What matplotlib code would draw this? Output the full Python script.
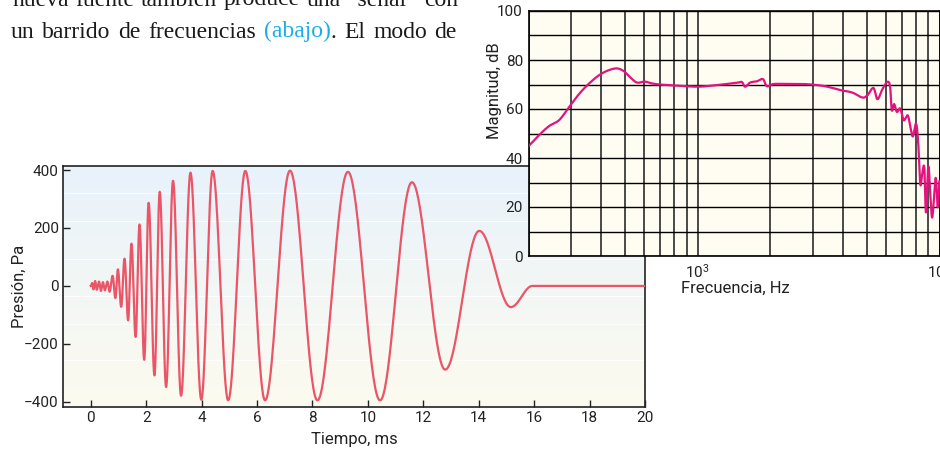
import numpy as np
import matplotlib
matplotlib.use("Agg")
import matplotlib.pyplot as plt
from matplotlib import font_manager
from matplotlib.ticker import FixedLocator, MultipleLocator, NullFormatter

# Pressure pulse: successive extrema of the swept signal (ms, Pa)
PULSE_T = [0.0, 0.05, 0.10, 0.16, 0.22, 0.30, 0.37, 0.44, 0.51, 0.60, 0.68,
           0.79, 0.89, 0.98, 1.10, 1.22, 1.35, 1.47, 1.62, 1.76, 1.93, 2.09,
           2.30, 2.49, 2.72, 2.97, 3.26, 3.60, 3.99, 4.40, 4.96, 5.58, 6.29,
           7.19, 8.18, 9.28, 10.44, 11.59, 12.79, 14.02, 15.16, 15.94, 20.0]
PULSE_P = [0, 10, -12, 17, -13, 15, -17, 13, -15, 15, -20,
           35, -42, 57, -72, 94, -119, 146, -176, 212, -255, 287,
           -309, 325, -349, 363, -379, 391, -393, 397, -395, 397, -395,
           398, -395, 394, -395, 358, -289, 190, -73, 0, 0]

# Magnitude response (Hz, dB)
FREQ_HZ = [200, 221, 243, 268, 295, 335, 393, 453, 491, 523, 561, 604, 644,
           697, 818, 990, 1162, 1452, 1524, 1573, 1650, 1758, 1862, 1935,
           2060, 2342, 2748, 3224, 3543, 3900, 4363, 4795, 5036, 5330, 5540,
           5810, 6095, 6250, 6350, 6495, 6665, 6880, 7110, 7390, 7580, 7760,
           8000, 8170, 8330, 8460, 8650, 8790, 8990, 9160, 9340, 9640, 9830,
           9990]
MAG_DB = [44.8, 49.3, 53.0, 55.5, 60.9, 67.8, 73.9, 76.5, 75.7, 73.2, 70.8,
          71.2, 70.5, 70.0, 69.6, 69.1, 69.6, 70.7, 71.0, 69.1, 70.8, 71.3,
          72.2, 69.3, 70.2, 70.2, 70.2, 69.6, 68.8, 67.7, 66.7, 64.7, 65.6,
          68.6, 64.0, 68.1, 71.1, 69.0, 59.5, 62.0, 58.8, 60.2, 55.4, 57.4,
          52.6, 48.8, 54.0, 45.8, 29.4, 32.8, 36.2, 17.8, 36.5, 25.3, 15.8,
          31.9, 19.9, 30.5]

TIME_TICKS = list(range(0, 21, 2))
PRESSURE_TICKS = [-400, -200, 0, 200, 400]
DB_TICKS = [0, 20, 40, 60, 80, 100]
FREQ_TICKS = [1000, 10000]
FREQ_TICK_LABELS = [r"$\mathregular{10^3}$", r"$\mathregular{10^4}$"]

# running text above the charts
TEXT_LINES = [
    ["nueva", "fuente", "también", "produce", "una", "\u201cseñal\u201d", "con"],
    ["un", "barrido", "de", "frecuencias",
     [("(abajo)", "#1aaee5"), (".", "#1a1a1a")], "El", "modo", "de"],
]

W, H = 940, 450

names = {f.name for f in font_manager.fontManager.ttflist}
SANS = next((n for n in ["Liberation Sans Narrow", "Roboto", "Liberation Sans"]
             if n in names), "DejaVu Sans")
SERIF = "Liberation Serif" if "Liberation Serif" in names else "DejaVu Serif"
plt.rcParams["font.family"] = [SANS, "DejaVu Sans"]


def px_box(left, top, right, bottom):
    return [left / W, 1 - bottom / H, (right - left) / W, (bottom - top) / H]


def sweep_curve(ts, ps, n=40):
    # half-cosine segments between consecutive extrema
    xs, ys = [], []
    for i in range(len(ts) - 1):
        s = np.linspace(0, 1, n, endpoint=False)
        xs.append(ts[i] + s * (ts[i + 1] - ts[i]))
        ys.append(ps[i] + (ps[i + 1] - ps[i]) * (1 - np.cos(np.pi * s)) / 2)
    xs.append([ts[-1]])
    ys.append([ps[-1]])
    return np.concatenate(xs), np.concatenate(ys)


def smooth_log(fs, vs, n=12):
    # Catmull-Rom through the points, in log-frequency
    x = np.log10(fs)
    y = np.asarray(vs, float)
    xp = np.concatenate([[2 * x[0] - x[1]], x, [2 * x[-1] - x[-2]]])
    yp = np.concatenate([[2 * y[0] - y[1]], y, [2 * y[-1] - y[-2]]])
    ox, oy = [], []
    t = np.linspace(0, 1, n, endpoint=False)
    for i in range(1, len(xp) - 2):
        for arr, out in ((xp, ox), (yp, oy)):
            p0, p1, p2, p3 = arr[i - 1:i + 3]
            out.append(0.5 * (2 * p1 + (-p0 + p2) * t
                              + (2 * p0 - 5 * p1 + 4 * p2 - p3) * t ** 2
                              + (-p0 + 3 * p1 - 3 * p2 + p3) * t ** 3))
    ox.append([x[-1]])
    oy.append([y[-1]])
    return 10 ** np.concatenate(ox), np.concatenate(oy)


def draw_justified(fig, words, x0, x1, baseline, size):
    renderer = fig.canvas.get_renderer()
    pieces = [[(w, "#1a1a1a")] if isinstance(w, str) else w for w in words]

    def width(s):
        t = fig.text(0, 0, s, fontsize=size, family=SERIF)
        w = t.get_window_extent(renderer).width
        t.remove()
        return w

    widths = [[width(s) for s, _ in p] for p in pieces]
    total = sum(sum(w) for w in widths)
    gap = (x1 - x0 - total) / (len(pieces) - 1)
    x = x0
    for p, ws in zip(pieces, widths):
        for (s, c), w in zip(p, ws):
            fig.text(x / W, 1 - baseline / H, s, fontsize=size, family=SERIF,
                     color=c, va="baseline", ha="left")
            x += w
        x += gap


fig = plt.figure(figsize=(9.4, 4.5), dpi=100)

# --- pressure vs time ---
ax_t = fig.add_axes(px_box(63, 166, 645, 407))
ax_t.set_xlim(-1, 20)
ax_t.set_ylim(-418, 414)
top_c = np.array([0.91, 0.95, 0.985])
bot_c = np.array([0.99, 0.983, 0.935])
s = np.linspace(0, 1, 256)[:, None, None]
grad = top_c * (1 - s) + bot_c * s
ax_t.imshow(grad, extent=[-1, 20, -418, 414], aspect="auto", origin="upper", zorder=0)
for yv in [321, 223, 94, -35, -130, -257]:
    ax_t.axhline(yv, color="white", lw=0.8, alpha=0.8, zorder=0.5)

tx, ty = sweep_curve(PULSE_T, PULSE_P)
ax_t.plot(tx, ty, color="#ea5567", lw=1.6, zorder=3)

ax_t.set_xticks(TIME_TICKS)
ax_t.set_yticks(PRESSURE_TICKS)
ax_t.tick_params(direction="in", length=5, width=1, labelsize=11,
                 pad=3, colors="#222222")
for sp in ax_t.spines.values():
    sp.set_linewidth(1.2)
    sp.set_color("#222222")
ax_t.set_xlabel("Tiempo, ms", fontsize=12, color="#222222")
ax_t.set_ylabel("Presión, Pa", fontsize=12, color="#222222")
ax_t.xaxis.set_label_coords(0.5, -0.105)
ax_t.yaxis.set_label_coords(-0.062, 0.5)

# --- magnitude vs frequency ---
ax_f = fig.add_axes(px_box(528.5, 11, 939.5, 256), facecolor="#fffdf1")
ax_f.set_zorder(2)
ax_f.set_xscale("log")
ax_f.set_xlim(200, 10000)
ax_f.set_ylim(0, 100)
ax_f.set_yticks(DB_TICKS)
ax_f.yaxis.set_minor_locator(MultipleLocator(10))
ax_f.xaxis.set_major_locator(FixedLocator(FREQ_TICKS))
ax_f.xaxis.set_minor_locator(FixedLocator(
    [m * d for d in (100, 1000) for m in range(2, 10)]))
ax_f.xaxis.set_minor_formatter(NullFormatter())
ax_f.set_xticklabels(FREQ_TICK_LABELS)
ax_f.grid(which="both", axis="y", color="black", lw=1.0)
ax_f.grid(which="both", axis="x", color="#3c3c3c", lw=1.3)
ax_f.tick_params(which="both", length=0, labelsize=11, colors="#222222")
ax_f.tick_params(axis="y", pad=4)
ax_f.tick_params(axis="x", pad=5)
for sp in ax_f.spines.values():
    sp.set_linewidth(1.2)
    sp.set_color("black")

fx, fy = smooth_log(FREQ_HZ, MAG_DB)
ax_f.plot(fx, fy, color="#e3127f", lw=1.6, zorder=3, solid_joinstyle="round")
ax_f.set_xlabel("Frecuencia, Hz", fontsize=12, color="#222222")
ax_f.set_ylabel("Magnitud, dB", fontsize=12, color="#222222")
ax_f.xaxis.set_label_coords(0.503, -0.102)
ax_f.yaxis.set_label_coords(-0.065, 0.673)

# --- running text ---
draw_justified(fig, TEXT_LINES[0], 12, 458, 5.5, 17)
draw_justified(fig, TEXT_LINES[1], 11, 457, 37.5, 17)

fig.savefig("out.png", dpi=100)
